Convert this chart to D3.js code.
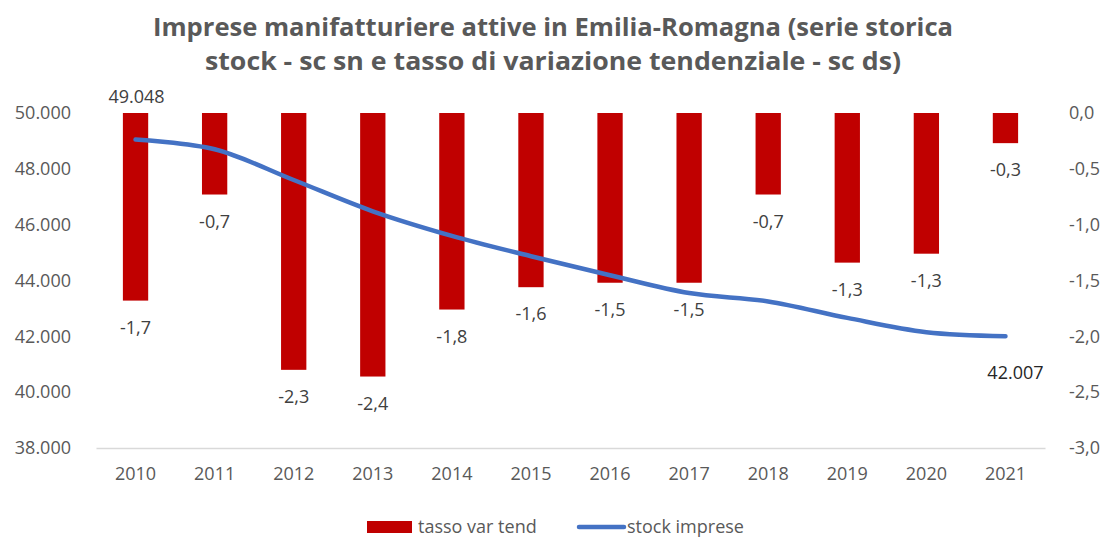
<!DOCTYPE html>
<html>
<head>
<meta charset="utf-8">
<script src="https://cdn.jsdelivr.net/npm/d3@7"></script>
<style>
  html, body { margin: 0; padding: 0; background: #fff; }
  svg { display: block; font-family: "Open Sans", "Noto Sans", sans-serif; }
</style>
</head>
<body>
<svg id="chart" width="1106" height="537"></svg>
<script>
// Anni
const years = ["2010","2011","2012","2013","2014","2015","2016","2017","2018","2019","2020","2021"];
// Tasso di variazione tendenziale (%), scala destra
const tassoVar = [-1.68, -0.73, -2.30, -2.36, -1.76, -1.56, -1.52, -1.52, -0.73, -1.34, -1.26, -0.27];
// Stock imprese attive, scala sinistra
const stockImprese = [49048, 48700, 47600, 46480, 45600, 44870, 44190, 43550, 43250, 42660, 42150, 42007];
// Tick degli assi
const leftTicks = [38000, 40000, 42000, 44000, 46000, 48000, 50000];
const rightTicks = [0, -0.5, -1, -1.5, -2, -2.5, -3];
const titleLines = [
  "Imprese manifatturiere attive in Emilia-Romagna  (serie storica",
  "stock - sc sn e tasso di variazione tendenziale - sc ds)"
];
const legendLabels = ["tasso var tend", "stock imprese"];

const it = d3.formatLocale({decimal: ",", thousands: ".", grouping: [3], currency: ["€", ""], minus: "-"});
const fmtStock = it.format(",.0f");
const fmtRate = it.format(".1f");

const svg = d3.select("#chart");
const plot = {left: 96, right: 1045, top: 113, bottom: 448};

const x = d3.scaleBand().domain(years).range([plot.left, plot.right]).padding(0);
const yL = d3.scaleLinear().domain([38000, 50000]).range([plot.bottom, plot.top]);
const yR = d3.scaleLinear().domain([-3, 0]).range([plot.bottom, plot.top]);
const barW = x.bandwidth() * 0.32;
const cx = d => x(d) + x.bandwidth() / 2;

const axisColor = "#595959";

// Titolo
svg.append("g").selectAll("text").data(titleLines).join("text")
  .attr("x", 553).attr("y", (d, i) => 36 + i * 34)
  .attr("text-anchor", "middle")
  .attr("font-size", 25).attr("font-weight", 700)
  .attr("fill", "#595959")
  .attr("textLength", (d, i) => i === 0 ? 800 : 696)
  .attr("lengthAdjust", "spacingAndGlyphs")
  .text(d => d);

// Asse sinistro
const gL = svg.append("g").attr("transform", `translate(${plot.left - 22},0)`)
  .call(d3.axisLeft(yL).tickValues(leftTicks).tickSize(0).tickFormat(fmtStock));
gL.select(".domain").remove();
gL.selectAll("text").attr("font-size", 18).attr("fill", axisColor)
  .attr("font-family", "'Open Sans', sans-serif").attr("dx", 0);

// Asse destro
const gR = svg.append("g").attr("transform", `translate(${plot.right + 21},0)`)
  .call(d3.axisRight(yR).tickValues(rightTicks).tickSize(0).tickFormat(fmtRate));
gR.select(".domain").remove();
gR.selectAll("text").attr("font-size", 18).attr("fill", axisColor)
  .attr("font-family", "'Open Sans', sans-serif");

// Asse delle categorie
const gX = svg.append("g").attr("transform", `translate(0,${plot.bottom})`)
  .call(d3.axisBottom(x).tickSize(0).tickPadding(19));
gX.select(".domain").attr("stroke", "#d9d9d9").attr("stroke-width", 1.3);
gX.selectAll("text").attr("font-size", 18).attr("fill", axisColor)
  .attr("font-family", "'Open Sans', sans-serif");

// Barre: tasso di variazione
svg.append("g").selectAll("rect").data(years).join("rect")
  .attr("x", d => cx(d) - barW / 2)
  .attr("width", barW)
  .attr("y", yR(0))
  .attr("height", (d, i) => yR(tassoVar[i]) - yR(0))
  .attr("fill", "#C00000");

// Etichette delle barre
svg.append("g").selectAll("text").data(years).join("text")
  .attr("x", d => cx(d))
  .attr("y", (d, i) => yR(tassoVar[i]) + 33)
  .attr("text-anchor", "middle")
  .attr("font-size", 18).attr("fill", "#404040")
  .text((d, i) => fmtRate(tassoVar[i]));

// Linea: stock imprese
const line = d3.line()
  .x((d, i) => cx(years[i]))
  .y(d => yL(d))
  .curve(d3.curveCatmullRom.alpha(0.5));
svg.append("path").datum(stockImprese)
  .attr("d", line)
  .attr("fill", "none")
  .attr("stroke", "#4472C4")
  .attr("stroke-width", 4.5)
  .attr("stroke-linecap", "round")
  .attr("stroke-linejoin", "round");

// Etichette del primo e ultimo valore dello stock
const first = 0, last = years.length - 1;
svg.append("text")
  .attr("x", cx(years[first]) + 1).attr("y", yL(stockImprese[first]) - 37)
  .attr("text-anchor", "middle").attr("font-size", 18).attr("fill", "#404040")
  .text(fmtStock(stockImprese[first]));
svg.append("text")
  .attr("x", cx(years[last]) + 10).attr("y", yL(stockImprese[last]) + 43)
  .attr("text-anchor", "middle").attr("font-size", 18).attr("fill", "#262626")
  .text(fmtStock(stockImprese[last]));

// Legenda
const leg = svg.append("g");
leg.append("rect").attr("x", 367).attr("y", 521).attr("width", 45).attr("height", 12).attr("fill", "#C00000");
leg.append("text").attr("x", 418).attr("y", 533).attr("font-size", 18).attr("fill", axisColor).text(legendLabels[0]);
leg.append("line").attr("x1", 579).attr("x2", 624).attr("y1", 527).attr("y2", 527)
  .attr("stroke", "#4472C4").attr("stroke-width", 4.5).attr("stroke-linecap", "round");
leg.append("text").attr("x", 627).attr("y", 533).attr("font-size", 18).attr("fill", axisColor).text(legendLabels[1]);
</script>
</body>
</html>
